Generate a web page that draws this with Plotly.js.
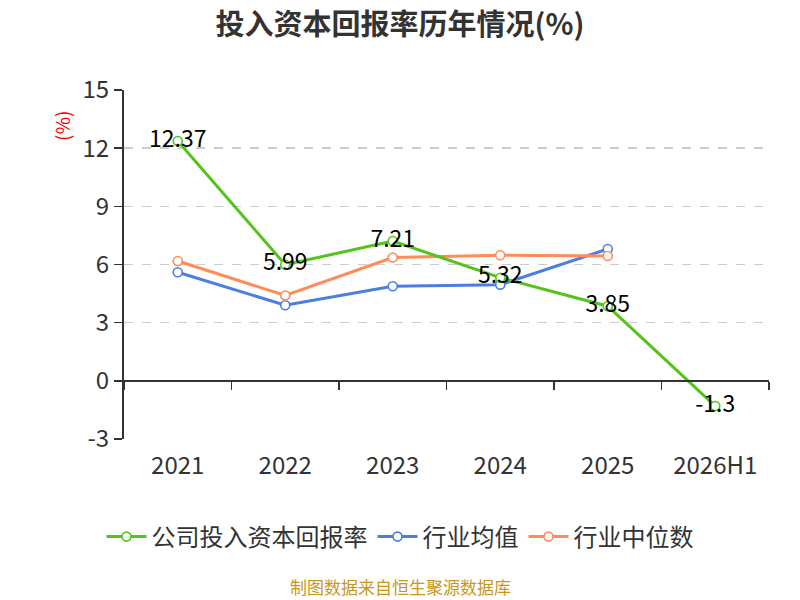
<!DOCTYPE html>
<html>
<head>
<meta charset="utf-8">
<script src="https://cdn.plot.ly/plotly-3.0.1.min.js"></script>
<style>
  html, body { margin: 0; padding: 0; background: #fff; }
  #chart { width: 800px; height: 600px; }
</style>
</head>
<body>
<div id="chart"></div>
<script>
// chart data
const years = ["2021", "2022", "2023", "2024", "2025", "2026H1"];
const companyRoic = [12.37, 5.99, 7.21, 5.32, 3.85, -1.3];
const industryMean = [5.6, 3.9, 4.88, 4.96, 6.8];
const industryMedian = [6.18, 4.4, 6.36, 6.48, 6.44];
const yTicks = [-3, 0, 3, 6, 9, 12, 15];

const FONT = '"Noto Sans CJK SC", "Noto Sans", sans-serif';

const green = "#52c41a";
const blue = "#4a7fe0";
const orange = "#ff8b58";

function lineTrace(name, y, color, withText, xaxis) {
    const t = {
        x: years.slice(0, y.length),
        y: y,
        name: name,
        xaxis: xaxis,
        type: "scatter",
        mode: withText ? "lines+markers+text" : "lines+markers",
        line: { color: color, width: 3 },
        marker: {
            symbol: "circle",
            size: 9,
            color: "#ffffff",
            line: { color: color, width: 1.6 }
        },
        cliponaxis: false,
        hoverinfo: "x+y"
    };
    if (withText) {
        t.text = y.map(v => String(v));
        t.textposition = "middle center";
        t.textfont = { family: FONT, size: 23, color: "#000000" };
    }
    return t;
}

// company series sits on the x2 axis, which draws the line at y = 0
const traces = [
    lineTrace("公司投入资本回报率", companyRoic, green, true, "x2"),
    lineTrace("行业均值", industryMean, blue, false, "x"),
    lineTrace("行业中位数", industryMedian, orange, false, "x")
];

const catAxis = {
    type: "category",
    categoryorder: "array",
    categoryarray: years,
    range: [-0.5, 5.5],
    showgrid: false,
    zeroline: false,
    fixedrange: true
};

const layout = {
    width: 800,
    height: 600,
    margin: { l: 124, r: 31, t: 90, b: 161 },
    paper_bgcolor: "#ffffff",
    plot_bgcolor: "#ffffff",
    font: { family: FONT, color: "#333333" },
    showlegend: true,
    title: {
        text: "<b>投入资本回报率历年情况(%)</b>",
        font: { family: FONT, size: 29, color: "#333333" },
        x: 0.5,
        xref: "container",
        xanchor: "center",
        y: 0.958,
        yref: "container",
        yanchor: "middle"
    },
    xaxis: Object.assign({}, catAxis, {
        showline: false,
        ticks: "",
        tickfont: { family: FONT, size: 24, color: "#333333" },
        ticklabelstandoff: 10
    }),
    xaxis2: Object.assign({}, catAxis, {
        overlaying: "x",
        anchor: "free",
        position: 3 / 18,
        side: "bottom",
        showline: true,
        linecolor: "#333333",
        linewidth: 2,
        showticklabels: false,
        ticks: "outside",
        tickson: "boundaries",
        ticklen: 8,
        tickwidth: 1.5,
        tickcolor: "#333333"
    }),
    yaxis: {
        range: [-3, 15],
        tickmode: "array",
        tickvals: yTicks,
        ticktext: yTicks.map(v => String(v)),
        showline: true,
        linecolor: "#333333",
        linewidth: 2,
        ticks: "outside",
        ticklen: 8,
        tickwidth: 1.5,
        tickcolor: "#333333",
        showgrid: true,
        gridcolor: "#cccccc",
        griddash: "dash",
        gridwidth: 1.5,
        zeroline: false,
        tickfont: { family: FONT, size: 24, color: "#333333" },
        fixedrange: true
    },
    legend: {
        orientation: "h",
        xref: "container",
        yref: "container",
        x: 0.5,
        xanchor: "center",
        y: 0.105,
        yanchor: "middle",
        font: { family: FONT, size: 24, color: "#333333" },
        itemwidth: 40,
        tracegroupgap: 0
    },
    annotations: [
        {
            text: "(%)",
            xref: "paper",
            yref: "paper",
            x: -0.096,
            y: 0.897,
            xanchor: "center",
            yanchor: "middle",
            textangle: -90,
            showarrow: false,
            font: { family: FONT, size: 19, color: "#ff0000" }
        },
        {
            text: "制图数据来自恒生聚源数据库",
            xref: "paper",
            yref: "paper",
            x: 0.428,
            y: -0.422,
            xanchor: "center",
            yanchor: "middle",
            showarrow: false,
            font: { family: FONT, size: 17, color: "#c9961a" }
        }
    ]
};

Plotly.newPlot("chart", traces, layout, { displayModeBar: false, staticPlot: true });
</script>
</body>
</html>
